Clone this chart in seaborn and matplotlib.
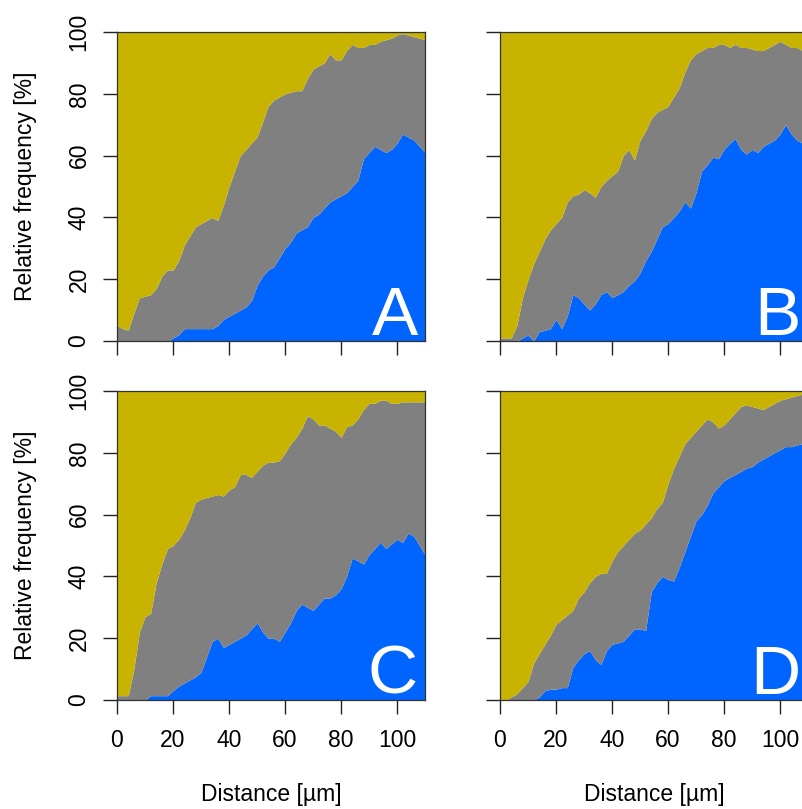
import numpy as np
import matplotlib
matplotlib.use("Agg")
import matplotlib.pyplot as plt
import seaborn as sns

# distance grid (µm) the curves were read at
distance = np.arange(0, 111, 2)

# upper edge of the grey band (= cumulative % of blue + grey), per panel
grey_top_a = [5, 4, 3.5, 9, 14, 14.5, 15, 17, 21, 23, 23, 26, 31, 34, 37, 38, 39, 40, 39, 44,
              50, 55, 60, 62, 64, 66, 71, 76, 78, 79, 80, 80.5, 81, 81, 85, 88, 89, 90, 93, 91,
              91, 94, 96, 95, 95, 96, 96, 97, 97.5, 98, 99, 99.5, 99, 98.5, 98, 97.5]
grey_top_b = [1, 1, 1, 5, 14, 20, 25, 29, 33, 36, 38, 40, 45, 47, 47.5, 49, 48, 46.5, 50, 52,
              53.5, 55, 60, 62, 58.5, 65, 68, 72, 74, 75, 76, 79, 82, 87, 91, 93, 94, 95, 95, 96,
              96, 95, 96, 95, 95, 94.5, 94, 94, 95, 96, 97, 96, 95, 95, 94, 94]
grey_top_c = [1.4, 1.4, 1.4, 10, 22, 27, 28, 38, 44, 49, 50, 52, 55, 59, 64, 65, 65.5, 66, 66.5, 66,
              68, 69, 73, 73, 72, 74, 76, 77, 77, 77.5, 80, 83, 85, 88, 92, 91, 89, 89, 88, 87,
              85, 88.5, 89, 91, 94, 96, 96, 97, 97, 96, 96, 96.5, 96.5, 96.5, 96.5, 96.5]
grey_top_d = [0, 0, 1, 2, 4, 6, 12, 15, 18, 21, 24.5, 26, 27.5, 29, 33, 35, 38, 40, 41, 41,
              45, 48, 50, 52, 54, 55, 57, 59, 62, 64, 70, 75, 79, 83, 85, 87, 89, 91, 90, 88,
              89, 91, 93, 95, 95.5, 95, 94.5, 94, 95, 96, 97, 97.5, 98, 98.5, 99, 99]

# upper edge of the blue band, per panel
blue_a = [0, 0, 0, 0, 0, 0, 0, 0, 0, 0, 1, 2, 4, 4, 4, 4, 4, 4, 5, 7,
          8, 9, 10, 11, 13, 18, 21, 23, 24, 27, 30, 32, 35, 36, 37, 40, 41, 43, 45, 46,
          47, 48, 50, 52, 59, 61, 63, 62, 61, 62, 64, 67, 66, 65, 63, 61]
blue_b = [0, 0, 0, 0, 1, 2, 0, 3, 3.5, 4, 7, 4, 8, 15, 14, 12, 10, 12, 15, 16,
          14, 15, 16, 18, 19.5, 22, 26, 29, 33, 37, 38, 40, 42, 45, 43, 48, 55, 57, 59.5, 59,
          62, 64, 65.5, 62, 60.5, 62, 61, 63, 64, 65, 67, 70, 67, 65, 64, 64]
blue_c = [0, 0, 0, 0, 0, 0, 1.4, 1.4, 1.4, 1.4, 3, 4.5, 5.5, 6.5, 7.5, 9, 14, 19, 20, 17,
          18, 19, 20, 21, 23, 25, 22, 20, 20, 19, 22, 25, 29, 31, 30, 29, 31, 33, 33, 34,
          36, 40, 46, 45, 44, 47, 49, 51, 49, 50.5, 52, 51, 54, 53, 50, 47]
blue_d = [0, 0, 0, 0, 0, 0, 0, 1, 3, 3.5, 3.5, 4, 4, 10.5, 13, 15, 16, 13, 11.5, 16,
          18, 18.5, 19, 21, 23, 23, 22.5, 35, 38, 40, 39, 38.5, 43, 48, 53, 58, 60, 63, 67, 69,
          71, 72, 73, 74, 75, 75.5, 77, 78, 79, 80, 81, 82, 82, 82.5, 83, 83]

panel_letters = ["A", "B", "C", "D"]
x_ticks = [0, 20, 40, 60, 80, 100]
y_ticks = [0, 20, 40, 60, 80, 100]

sns.set_style("ticks")
plt.rcParams['font.family'] = ['Liberation Sans', 'DejaVu Sans']

col_blue = "#0064ff"
col_grey = "#808080"
col_olive = "#c8b400"

fig = plt.figure(figsize=(8.02, 8.09), dpi=100)

W, H = 802, 809
ax_w, ax_h = 308, 309
# left/top pixel position of each panel
corners = [(117, 32), (500, 32), (117, 391), (500, 391)]
blues = [blue_a, blue_b, blue_c, blue_d]
greys = [grey_top_a, grey_top_b, grey_top_c, grey_top_d]

for i, (px, py) in enumerate(corners):
    ax = fig.add_axes([px / W, 1 - (py + ax_h) / H, ax_w / W, ax_h / H])
    b = np.array(blues[i], dtype=float)
    g = np.array(greys[i], dtype=float)
    ax.fill_between(distance, 0, b, color=col_blue, lw=0)
    ax.fill_between(distance, b, g, color=col_grey, lw=0)
    ax.fill_between(distance, g, 100, color=col_olive, lw=0)
    ax.set_xlim(0, 110)
    ax.set_ylim(0, 100)
    ax.set_xticks(x_ticks)
    ax.set_yticks(y_ticks)
    ax.tick_params(axis='both', length=10, width=1, labelsize=16.5,
                   color='#222222', labelcolor='black')
    ax.tick_params(axis='x', pad=11)
    ax.tick_params(axis='y', pad=9)
    if i % 2 == 0:
        ax.set_yticklabels([str(v) for v in y_ticks], rotation=90, va='center')
        ax.set_ylabel("Relative frequency [%]", fontsize=16.5, labelpad=22, color='black')
    else:
        ax.set_yticklabels([])
    if i >= 2:
        ax.set_xlabel("Distance [µm]", fontsize=16.5, labelpad=22, color='black')
    else:
        ax.set_xticklabels([])
    for s in ax.spines.values():
        s.set_linewidth(0.9)
        s.set_color('#333333')
    ax.text(0.977, 0.02, panel_letters[i], transform=ax.transAxes, ha='right',
            va='baseline', color='white', fontsize=50)

fig.savefig("out.png", dpi=100)
